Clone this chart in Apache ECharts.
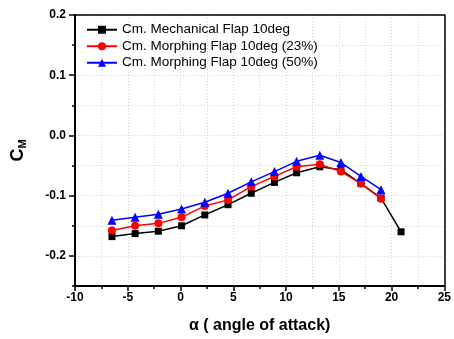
<!DOCTYPE html>
<html>
<head>
<meta charset="utf-8">
<script src="https://cdn.jsdelivr.net/npm/echarts@6/dist/echarts.min.js"></script>
<style>html,body{margin:0;padding:0;background:#fff}#c{width:454px;height:339px}</style>
</head>
<body>
<div id="c"></div>
<script>
var alpha = [-6.5, -4.3, -2.1, 0.1, 2.3, 4.5, 6.7, 8.9, 11.0, 13.2, 15.2, 17.1, 19.0, 20.9];
var cmMechanical = [-0.168, -0.163, -0.159, -0.150, -0.132, -0.115, -0.096, -0.078, -0.062, -0.052, -0.057, -0.080, -0.104, -0.160];
var cmMorphing23 = [-0.158, -0.150, -0.146, -0.136, -0.117, -0.107, -0.085, -0.068, -0.052, -0.048, -0.060, -0.080, -0.105];
var cmMorphing50 = [-0.141, -0.136, -0.131, -0.122, -0.111, -0.096, -0.077, -0.060, -0.043, -0.033, -0.045, -0.068, -0.090];
var seriesNames = ['Cm. Mechanical Flap 10deg', 'Cm. Morphing Flap 10deg (23%)', 'Cm. Morphing Flap 10deg (50%)'];
var yMajorTicks = [-0.2, -0.1, 0.0, 0.1, 0.2];

function pairs(xs, ys) { return ys.map(function (y, i) { return [xs[i], y]; }); }

var FONT = 'Liberation Sans, Arial, sans-serif';
var chart = echarts.init(document.getElementById('c'), null, { renderer: 'canvas' });

function dotted() { return { show: true, lineStyle: { color: '#d4d4d4', type: [1, 2], width: 1 } }; }

chart.setOption({
  animation: false,
  backgroundColor: '#fff',
  grid: { left: 75, right: 7, top: 15, bottom: 50 },
  legend: {
    orient: 'vertical', left: 81, top: 17,
    itemWidth: 30, itemHeight: 10, itemGap: 1,
    textStyle: { fontFamily: FONT, fontSize: 13.5, color: '#000', lineHeight: 15.5 },
    data: seriesNames,
    z: 10
  },
  xAxis: [{
    type: 'value', min: -10, max: 25, interval: 5,
    name: 'α ( angle of attack)', nameLocation: 'middle', nameGap: 32,
    nameTextStyle: { fontFamily: FONT, fontSize: 16, fontWeight: 'bold', color: '#000' },
    axisLine: { show: true, onZero: false, lineStyle: { color: '#000', width: 2 } },
    axisTick: { show: true, length: 5, lineStyle: { color: '#000', width: 1.5 } },
    minorTick: { show: true, splitNumber: 2, length: 3, lineStyle: { color: '#000', width: 1.5 } },
    axisLabel: { fontFamily: FONT, fontSize: 12, fontWeight: 'bold', color: '#000', margin: 6 },
    splitLine: dotted(),
    minorSplitLine: dotted()
  }, {
    type: 'value', min: -10, max: 25, position: 'top',
    axisLine: { show: true, onZero: false, lineStyle: { color: '#000', width: 1.5 } },
    axisTick: { show: false }, axisLabel: { show: false }, splitLine: { show: false },
    z: 5
  }],
  yAxis: [{
    type: 'value', min: -0.25, max: 0.2, interval: 0.05,
    name: '{c|C}{s|M}', nameLocation: 'middle', nameGap: 47, nameRotate: 90,
    nameTextStyle: { rich: {
      c: { fontFamily: FONT, fontSize: 18, fontWeight: 'bold', color: '#000' },
      s: { fontFamily: FONT, fontSize: 11, fontWeight: 'bold', color: '#000', verticalAlign: 'bottom', padding: [8, 0, 0, 0] }
    } },
    axisLine: { show: true, onZero: false, lineStyle: { color: '#000', width: 2 } },
    axisTick: { show: true, length: 3, lineStyle: { color: '#000', width: 1.5 } },
    axisLabel: {
      fontFamily: FONT, fontSize: 12, fontWeight: 'bold', color: '#000', margin: 9,
      formatter: function (v) {
        var k = Math.round(v * 100);
        if (k % 10 !== 0 || k === -25) return '';
        return (k / 100).toFixed(1);
      }
    },
    splitLine: dotted()
  }, {
    type: 'value', min: -0.25, max: 0.2, position: 'left', offset: 0,
    axisLine: { show: false, onZero: false },
    axisTick: { show: true, length: 6, customValues: yMajorTicks, lineStyle: { color: '#000', width: 1.5 } },
    axisLabel: { show: false },
    splitLine: { show: false }
  }, {
    type: 'value', min: -0.25, max: 0.2, position: 'right',
    axisLine: { show: true, onZero: false, lineStyle: { color: '#000', width: 1.5 } },
    axisTick: { show: false }, axisLabel: { show: false }, splitLine: { show: false },
    z: 5
  }],
  series: [{
    name: seriesNames[0], type: 'line', data: pairs(alpha, cmMechanical),
    symbol: 'rect', symbolSize: 7, color: '#000',
    lineStyle: { width: 1.5, color: '#000' }, itemStyle: { color: '#000' }, z: 2
  }, {
    name: seriesNames[1], type: 'line', data: pairs(alpha, cmMorphing23),
    symbol: 'circle', symbolSize: 8, color: '#ff0000',
    lineStyle: { width: 1.5, color: '#ff0000' }, itemStyle: { color: '#ff0000' }, z: 3
  }, {
    name: seriesNames[2], type: 'line', data: pairs(alpha, cmMorphing50),
    symbol: 'triangle', symbolSize: 9, color: '#0000ff',
    lineStyle: { width: 1.5, color: '#0000ff' }, itemStyle: { color: '#0000ff' }, z: 4
  }]
});
</script>
</body>
</html>
